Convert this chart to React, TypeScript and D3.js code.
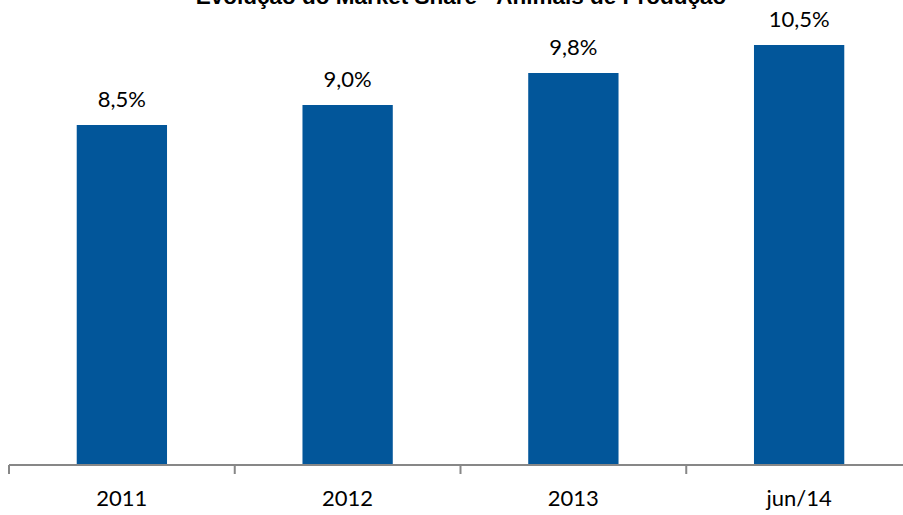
import * as React from "react";
import * as d3 from "d3";

const categories = ["2011", "2012", "2013", "jun/14"];
const shareValues = [8.5, 9.0, 9.8, 10.5];
const valueLabels = ["8,5%", "9,0%", "9,8%", "10,5%"];
const chartTitle = "Evolução do Market Share - Animais de Produção";

const W = 903;
const H = 515;

const App: React.FunctionComponent = () => {
  const ref = React.useRef<SVGSVGElement>(null);

  React.useEffect(() => {
    const svg = d3.select(ref.current);
    svg.selectAll("*").remove();

    const baseY = 465;
    const x = d3
      .scaleBand<string>()
      .domain(categories)
      .range([9, 912])
      .paddingInner(0.6)
      .paddingOuter(0.3);
    const y = d3.scaleLinear().domain([0, 10.5]).range([baseY, 45]);

    // title is clipped by the top edge, as in the original picture
    svg
      .append("text")
      .attr("x", 461)
      .attr("y", 4)
      .attr("text-anchor", "middle")
      .attr("font-family", "Liberation Sans, Arial, sans-serif")
      .attr("font-weight", "bold")
      .attr("font-size", 22.5)
      .attr("fill", "#000")
      .text(chartTitle);

    svg
      .selectAll("rect.bar")
      .data(shareValues)
      .enter()
      .append("rect")
      .attr("class", "bar")
      .attr("x", (_, i) => x(categories[i])!)
      .attr("width", x.bandwidth())
      .attr("y", d => y(d))
      .attr("height", d => baseY - y(d))
      .attr("fill", "#02569a");

    svg
      .selectAll("text.val")
      .data(shareValues)
      .enter()
      .append("text")
      .attr("class", "val")
      .attr("x", (_, i) => x(categories[i])! + x.bandwidth() / 2)
      .attr("y", d => y(d) - 18)
      .attr("text-anchor", "middle")
      .attr("font-family", "Lato, sans-serif")
      .attr("font-size", 22)
      .attr("fill", "#000")
      .text((_, i) => valueLabels[i]);

    // category axis, ticks sit between the bands
    const axis = svg.append("g");
    axis
      .append("line")
      .attr("x1", 9)
      .attr("x2", W)
      .attr("y1", baseY)
      .attr("y2", baseY)
      .attr("stroke", "#878787")
      .attr("stroke-width", 2);
    const tickXs = categories.map(c => x(c)! - (x.step() * x.paddingInner()) / 2);
    axis
      .selectAll("line.tick")
      .data(tickXs)
      .enter()
      .append("line")
      .attr("class", "tick")
      .attr("x1", d => d)
      .attr("x2", d => d)
      .attr("y1", baseY)
      .attr("y2", baseY + 9)
      .attr("stroke", "#878787")
      .attr("stroke-width", 2);
    axis
      .selectAll("text.cat")
      .data(categories)
      .enter()
      .append("text")
      .attr("class", "cat")
      .attr("x", d => x(d)! + x.bandwidth() / 2)
      .attr("y", 506)
      .attr("text-anchor", "middle")
      .attr("font-family", "Lato, sans-serif")
      .attr("font-size", 22)
      .attr("fill", "#000")
      .text(d => d);
  }, []);

  return (
    <svg
      ref={ref}
      width={W}
      height={H}
      style={{ position: "absolute", left: 0, top: 0, background: "#fff" }}
    />
  );
};

export default App;
